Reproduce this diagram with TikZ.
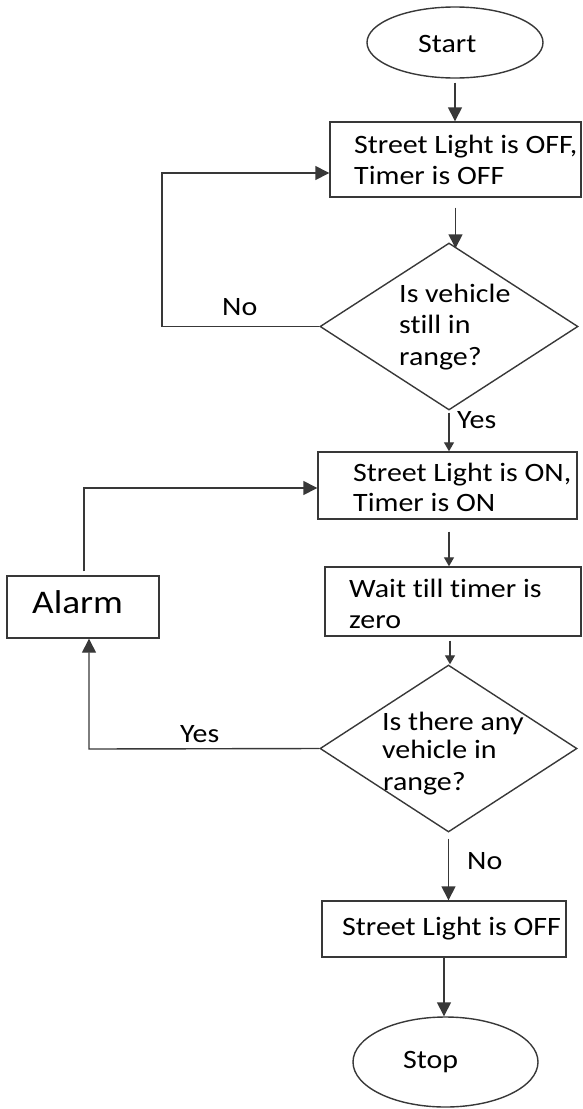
\documentclass[tikz,border=0pt]{standalone}
\usepackage{fontspec}
\setmainfont[FakeStretch=1.13, Ligatures=NoCommon]{Carlito}
\usetikzlibrary{shapes.geometric,arrows.meta}
\begin{document}
\begin{tikzpicture}[x=1pt,y=-1pt,
  shp/.style={draw=black!78, line width=1.4pt, inner sep=0pt},
  boxn/.style={shp, rectangle},
  ov/.style={shp, ellipse},
  dia/.style={shp, diamond},
  txt/.style={anchor=base west, inner sep=0pt, text=black, font=\fontsize{26.5}{31}\selectfont},
  bigtxt/.style={txt, font=\fontsize{33}{38}\selectfont},
  big/.style={line width=1.4pt, draw=black!78, -{Triangle[length=14pt,width=14pt]}},
  small/.style={line width=1.2pt, draw=black!78, -{Triangle[length=9pt,width=10pt]}},
]
\useasboundingbox (0,0) rectangle (583,1109);

% shapes
\node[ov, minimum width=176pt, minimum height=71pt] (start) at (455,42.5) {};
\node[boxn, minimum width=251pt, minimum height=75pt] (b1) at (455.5,159.5) {};
\node[dia, minimum width=258pt, minimum height=167pt] (d1) at (449,326.5) {};
\node[boxn, minimum width=259pt, minimum height=67pt] (b2) at (447.5,485.5) {};
\node[boxn, minimum width=256pt, minimum height=69pt] (b3) at (453,601.5) {};
\node[dia, minimum width=257pt, minimum height=167pt] (d2) at (448.5,748.5) {};
\node[boxn, minimum width=244pt, minimum height=56pt] (b4) at (444,929) {};
\node[ov, minimum width=185pt, minimum height=90pt] (stop) at (445.5,1062) {};
\node[boxn, minimum width=152pt, minimum height=62pt] (alarm) at (83,607) {};

% texts
\node[txt] (tstart) at (418,52) {Start};
\node[txt] (t1a) at (354,153) {Street Light is OFF,};
\node[txt] (t1b) at (354,184) {Timer is OFF};
\node[txt] (td1a) at (399,302) {Is vehicle};
\node[txt] (td1b) at (399,333) {still in};
\node[txt] (td1c) at (399,365) {range?};
\node[txt] (tno1) at (222,315) {No};
\node[txt] (tyes1) at (457,428) {Yes};
\node[txt] (t2a) at (353,481) {Street Light is ON,};
\node[txt] (t2b) at (353,511) {Timer is ON};
\node[txt] (t3a) at (349,597) {Wait till timer is};
\node[txt] (t3b) at (349,628) {zero};
\node[bigtxt] (talarm) at (32,613) {Alarm};
\node[txt] (td2a) at (382,730) {Is there any};
\node[txt] (td2b) at (382,758) {vehicle in};
\node[txt] (td2c) at (383,790) {range?};
\node[txt] (tyes2) at (180,742) {Yes};
\node[txt] (tno2) at (467,869) {No};
\node[txt] (t4) at (342,935) {Street Light is OFF};
\node[txt] (tstop) at (403,1068) {Stop};

% helper coordinates
\coordinate (c1) at (162,173);
\coordinate (c3) at (89,749);
\coordinate (c4) at (84,488);

% connectors
\draw[big, shorten <=4pt] (start.south) -- (start.south |- b1.north);
\draw[big, shorten <=10pt, shorten >=-6pt] (b1.south) -- (b1.south |- d1.north);
\draw[big] (d1.west) -| (c1) -- (c1 -| b1.west);
\draw[small, shorten <=2pt] (d1.south) -- (d1.south |- b2.north);
\draw[small, shorten <=12pt] ([xshift=1.5pt]b2.south) -- ([xshift=1.5pt]b2.south |- b3.north);
\draw[small, shorten <=4pt] ([xshift=2.5pt]b2.south |- b3.south) -- ([xshift=2.5pt]b2.south |- d2.north);
\draw[big, shorten <=6pt] (d2.south) -- (d2.south |- b4.north);
\draw[big] (b4.south) -- (b4.south |- stop.north);
\draw[big] (d2.west) -- (c3) -- (c3 |- alarm.south);
\draw[big, shorten <=4pt] (alarm.north -| c4) -- (c4) -- (c4 -| b2.west);
\end{tikzpicture}
\end{document}
